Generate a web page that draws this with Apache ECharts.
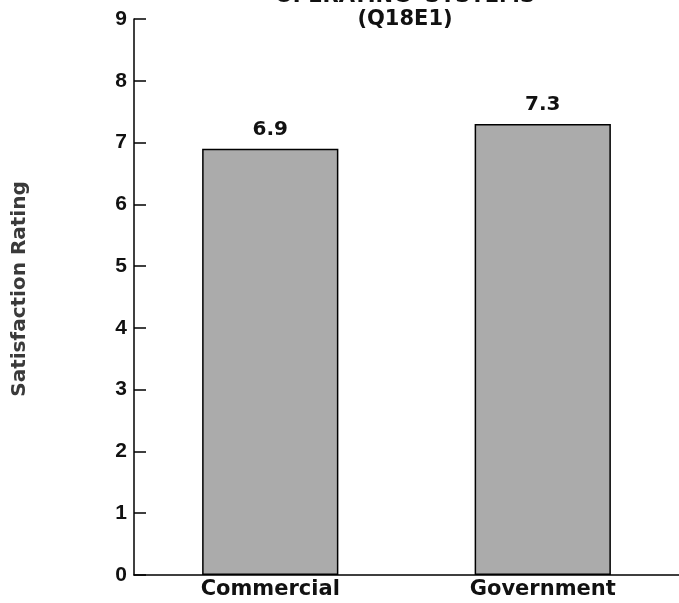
<!DOCTYPE html>
<html>
<head>
<meta charset="utf-8">
<script src="https://cdn.jsdelivr.net/npm/echarts@6/dist/echarts.min.js"></script>
<style>
  html, body { margin: 0; padding: 0; background: #fff; }
  #chart { width: 679px; height: 603px; }
</style>
</head>
<body>
<div id="chart"></div>
<script>
// Satisfaction ratings for operating systems, by sector
const categories = ['Commercial', 'Government'];
const ratings = [6.9, 7.3];
const yTicks = [0, 1, 2, 3, 4, 5, 6, 7, 8, 9];

const SANS = '"Liberation Sans", Arial, Helvetica, sans-serif';
const WIDE = '"DejaVu Sans", "Liberation Sans", sans-serif';

const chart = echarts.init(document.getElementById('chart'), null, { renderer: 'canvas' });
chart.setOption({
  animation: false,
  backgroundColor: '#ffffff',
  title: {
    text: 'OPERATING  SYSTEMS\n(Q18E1)',
    left: 405,
    textAlign: 'center',
    top: -15,
    padding: 0,
    textStyle: {
      fontFamily: WIDE,
      fontWeight: 'bold',
      fontSize: 21,
      lineHeight: 23,
      color: '#111'
    }
  },
  grid: { left: 134, right: 0, top: 19, bottom: 28, containLabel: false },
  xAxis: {
    type: 'category',
    data: categories,
    axisLine: { lineStyle: { color: '#000', width: 1.5 } },
    axisTick: { show: false },
    axisLabel: {
      fontFamily: WIDE,
      fontWeight: 'bold',
      fontSize: 21,
      color: '#111',
      margin: 4
    }
  },
  yAxis: {
    type: 'value',
    min: yTicks[0],
    max: yTicks[yTicks.length - 1],
    interval: 1,
    name: 'Satisfaction Rating',
    nameLocation: 'middle',
    nameRotate: 90,
    nameGap: 104,
    nameTextStyle: {
      fontFamily: WIDE,
      fontWeight: 'bold',
      fontSize: 20,
      color: '#3a3a3a',
      padding: [0, 0, 0, 16]
    },
    splitLine: { show: false },
    axisLine: { show: true, lineStyle: { color: '#000', width: 1.5 } },
    axisTick: { show: true, inside: true, length: 12, lineStyle: { color: '#000', width: 1.5 } },
    axisLabel: {
      fontFamily: SANS,
      fontWeight: 'bold',
      fontSize: 21,
      color: '#111',
      margin: 7
    }
  },
  series: [{
    type: 'bar',
    data: ratings,
    barWidth: '50%',
    itemStyle: {
      color: '#ababab',
      borderColor: '#000',
      borderWidth: 1.5
    },
    label: {
      show: true,
      position: 'top',
      distance: 9,
      fontFamily: WIDE,
      fontWeight: 'bold',
      fontSize: 20,
      color: '#111',
      formatter: p => p.value.toFixed(1)
    }
  }]
});
</script>
</body>
</html>
